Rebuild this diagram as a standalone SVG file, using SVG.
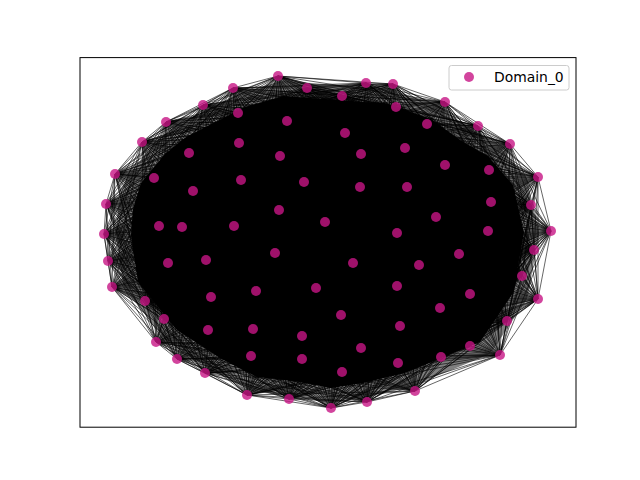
<svg xmlns="http://www.w3.org/2000/svg" width="640" height="480" viewBox="0 0 640 480">
<style>
.e{fill:none;stroke:#000;stroke-opacity:0.6;stroke-width:1;stroke-linejoin:round}
.n{fill:#C71585;fill-opacity:0.8}
.t{font-family:"DejaVu Sans","Liberation Sans",sans-serif;font-size:13.9px;fill:#000}
</style>
<rect x="0" y="0" width="640" height="480" fill="#fff"/>
<g id="connectors">
<polygon points="284,96 362,102 385,103 431,119 460,140 488,156 513,185 524,233 513,293 480,342 405,373 363,383 331,388 294,381 257,377 220,358 177,330 138,282 131,235 133,209 141,183 165,154 186,137 245,107" fill="#000" stroke="#000" stroke-opacity="0.5" stroke-width="30" stroke-linejoin="round"/>
<path class="e" d="M278 76L307 88L233 88L342 96L238 113L366 83L203 105L393 84L166 122L396 107L142 142L445 102L154 178L427 124L115 174L478 126L106 204L510 144L104 234L489 170L108 261L538 177L112 287L531 205L145 301L491 202L164 319L551 231L156 342L534 250L177 359L522 276L205 373L538 299L251 356L507 321L247 395L500 355L289 399L470 346L331 408L441 357L342 372L415 391L367 402L398 363"/>
<path class="e" d="M307 88L342 96L278 76L366 83L233 88L393 84L238 113L396 107L203 105L445 102L166 122L427 124L142 142L478 126L154 178L510 144L115 174L489 170L106 204L538 177L104 234L531 205L108 261L491 202L112 287L551 231L145 301L534 250L164 319L522 276L156 342L538 299L177 359L507 321L205 373L500 355L251 356L470 346L247 395L441 357L289 399L415 391L331 408L398 363L342 372L367 402"/>
<path class="e" d="M342 96L366 83L307 88L393 84L278 76L396 107L233 88L445 102L238 113L427 124L203 105L478 126L166 122L510 144L142 142L489 170L154 178L538 177L115 174L531 205L106 204L491 202L104 234L551 231L108 261L534 250L112 287L522 276L145 301L538 299L164 319L507 321L156 342L500 355L177 359L470 346L205 373L441 357L251 356L415 391L247 395L398 363L289 399L367 402L331 408L342 372"/>
<path class="e" d="M366 83L393 84L342 96L396 107L307 88L445 102L278 76L427 124L233 88L478 126L238 113L510 144L203 105L489 170L166 122L538 177L142 142L531 205L154 178L491 202L115 174L551 231L106 204L534 250L104 234L522 276L108 261L538 299L112 287L507 321L145 301L500 355L164 319L470 346L156 342L441 357L177 359L415 391L205 373L398 363L251 356L367 402L247 395L342 372L289 399L331 408"/>
<path class="e" d="M393 84L396 107L366 83L445 102L342 96L427 124L307 88L478 126L278 76L510 144L233 88L489 170L238 113L538 177L203 105L531 205L166 122L491 202L142 142L551 231L154 178L534 250L115 174L522 276L106 204L538 299L104 234L507 321L108 261L500 355L112 287L470 346L145 301L441 357L164 319L415 391L156 342L398 363L177 359L367 402L205 373L342 372L251 356L331 408L247 395L289 399"/>
<path class="e" d="M396 107L445 102L393 84L427 124L366 83L478 126L342 96L510 144L307 88L489 170L278 76L538 177L233 88L531 205L238 113L491 202L203 105L551 231L166 122L534 250L142 142L522 276L154 178L538 299L115 174L507 321L106 204L500 355L104 234L470 346L108 261L441 357L112 287L415 391L145 301L398 363L164 319L367 402L156 342L342 372L177 359L331 408L205 373L289 399L251 356L247 395"/>
<path class="e" d="M445 102L427 124L396 107L478 126L393 84L510 144L366 83L489 170L342 96L538 177L307 88L531 205L278 76L491 202L233 88L551 231L238 113L534 250L203 105L522 276L166 122L538 299L142 142L507 321L154 178L500 355L115 174L470 346L106 204L441 357L104 234L415 391L108 261L398 363L112 287L367 402L145 301L342 372L164 319L331 408L156 342L289 399L177 359L247 395L205 373L251 356"/>
<path class="e" d="M427 124L478 126L445 102L510 144L396 107L489 170L393 84L538 177L366 83L531 205L342 96L491 202L307 88L551 231L278 76L534 250L233 88L522 276L238 113L538 299L203 105L507 321L166 122L500 355L142 142L470 346L154 178L441 357L115 174L415 391L106 204L398 363L104 234L367 402L108 261L342 372L112 287L331 408L145 301L289 399L164 319L247 395L156 342L251 356L177 359L205 373"/>
<path class="e" d="M478 126L510 144L427 124L489 170L445 102L538 177L396 107L531 205L393 84L491 202L366 83L551 231L342 96L534 250L307 88L522 276L278 76L538 299L233 88L507 321L238 113L500 355L203 105L470 346L166 122L441 357L142 142L415 391L154 178L398 363L115 174L367 402L106 204L342 372L104 234L331 408L108 261L289 399L112 287L247 395L145 301L251 356L164 319L205 373L156 342L177 359"/>
<path class="e" d="M510 144L489 170L478 126L538 177L427 124L531 205L445 102L491 202L396 107L551 231L393 84L534 250L366 83L522 276L342 96L538 299L307 88L507 321L278 76L500 355L233 88L470 346L238 113L441 357L203 105L415 391L166 122L398 363L142 142L367 402L154 178L342 372L115 174L331 408L106 204L289 399L104 234L247 395L108 261L251 356L112 287L205 373L145 301L177 359L164 319L156 342"/>
<path class="e" d="M489 170L538 177L510 144L531 205L478 126L491 202L427 124L551 231L445 102L534 250L396 107L522 276L393 84L538 299L366 83L507 321L342 96L500 355L307 88L470 346L278 76L441 357L233 88L415 391L238 113L398 363L203 105L367 402L166 122L342 372L142 142L331 408L154 178L289 399L115 174L247 395L106 204L251 356L104 234L205 373L108 261L177 359L112 287L156 342L145 301L164 319"/>
<path class="e" d="M538 177L531 205L489 170L491 202L510 144L551 231L478 126L534 250L427 124L522 276L445 102L538 299L396 107L507 321L393 84L500 355L366 83L470 346L342 96L441 357L307 88L415 391L278 76L398 363L233 88L367 402L238 113L342 372L203 105L331 408L166 122L289 399L142 142L247 395L154 178L251 356L115 174L205 373L106 204L177 359L104 234L156 342L108 261L164 319L112 287L145 301"/>
<path class="e" d="M531 205L491 202L538 177L551 231L489 170L534 250L510 144L522 276L478 126L538 299L427 124L507 321L445 102L500 355L396 107L470 346L393 84L441 357L366 83L415 391L342 96L398 363L307 88L367 402L278 76L342 372L233 88L331 408L238 113L289 399L203 105L247 395L166 122L251 356L142 142L205 373L154 178L177 359L115 174L156 342L106 204L164 319L104 234L145 301L108 261L112 287"/>
<path class="e" d="M491 202L551 231L531 205L534 250L538 177L522 276L489 170L538 299L510 144L507 321L478 126L500 355L427 124L470 346L445 102L441 357L396 107L415 391L393 84L398 363L366 83L367 402L342 96L342 372L307 88L331 408L278 76L289 399L233 88L247 395L238 113L251 356L203 105L205 373L166 122L177 359L142 142L156 342L154 178L164 319L115 174L145 301L106 204L112 287L104 234L108 261"/>
<path class="e" d="M551 231L534 250L491 202L522 276L531 205L538 299L538 177L507 321L489 170L500 355L510 144L470 346L478 126L441 357L427 124L415 391L445 102L398 363L396 107L367 402L393 84L342 372L366 83L331 408L342 96L289 399L307 88L247 395L278 76L251 356L233 88L205 373L238 113L177 359L203 105L156 342L166 122L164 319L142 142L145 301L154 178L112 287L115 174L108 261L106 204L104 234"/>
<path class="e" d="M534 250L522 276L551 231L538 299L491 202L507 321L531 205L500 355L538 177L470 346L489 170L441 357L510 144L415 391L478 126L398 363L427 124L367 402L445 102L342 372L396 107L331 408L393 84L289 399L366 83L247 395L342 96L251 356L307 88L205 373L278 76L177 359L233 88L156 342L238 113L164 319L203 105L145 301L166 122L112 287L142 142L108 261L154 178L104 234L115 174L106 204"/>
<path class="e" d="M522 276L538 299L534 250L507 321L551 231L500 355L491 202L470 346L531 205L441 357L538 177L415 391L489 170L398 363L510 144L367 402L478 126L342 372L427 124L331 408L445 102L289 399L396 107L247 395L393 84L251 356L366 83L205 373L342 96L177 359L307 88L156 342L278 76L164 319L233 88L145 301L238 113L112 287L203 105L108 261L166 122L104 234L142 142L106 204L154 178L115 174"/>
<path class="e" d="M538 299L507 321L522 276L500 355L534 250L470 346L551 231L441 357L491 202L415 391L531 205L398 363L538 177L367 402L489 170L342 372L510 144L331 408L478 126L289 399L427 124L247 395L445 102L251 356L396 107L205 373L393 84L177 359L366 83L156 342L342 96L164 319L307 88L145 301L278 76L112 287L233 88L108 261L238 113L104 234L203 105L106 204L166 122L115 174L142 142L154 178"/>
<path class="e" d="M507 321L500 355L538 299L470 346L522 276L441 357L534 250L415 391L551 231L398 363L491 202L367 402L531 205L342 372L538 177L331 408L489 170L289 399L510 144L247 395L478 126L251 356L427 124L205 373L445 102L177 359L396 107L156 342L393 84L164 319L366 83L145 301L342 96L112 287L307 88L108 261L278 76L104 234L233 88L106 204L238 113L115 174L203 105L154 178L166 122L142 142"/>
<path class="e" d="M500 355L470 346L507 321L441 357L538 299L415 391L522 276L398 363L534 250L367 402L551 231L342 372L491 202L331 408L531 205L289 399L538 177L247 395L489 170L251 356L510 144L205 373L478 126L177 359L427 124L156 342L445 102L164 319L396 107L145 301L393 84L112 287L366 83L108 261L342 96L104 234L307 88L106 204L278 76L115 174L233 88L154 178L238 113L142 142L203 105L166 122"/>
<path class="e" d="M470 346L441 357L500 355L415 391L507 321L398 363L538 299L367 402L522 276L342 372L534 250L331 408L551 231L289 399L491 202L247 395L531 205L251 356L538 177L205 373L489 170L177 359L510 144L156 342L478 126L164 319L427 124L145 301L445 102L112 287L396 107L108 261L393 84L104 234L366 83L106 204L342 96L115 174L307 88L154 178L278 76L142 142L233 88L166 122L238 113L203 105"/>
<path class="e" d="M441 357L415 391L470 346L398 363L500 355L367 402L507 321L342 372L538 299L331 408L522 276L289 399L534 250L247 395L551 231L251 356L491 202L205 373L531 205L177 359L538 177L156 342L489 170L164 319L510 144L145 301L478 126L112 287L427 124L108 261L445 102L104 234L396 107L106 204L393 84L115 174L366 83L154 178L342 96L142 142L307 88L166 122L278 76L203 105L233 88L238 113"/>
<path class="e" d="M415 391L398 363L441 357L367 402L470 346L342 372L500 355L331 408L507 321L289 399L538 299L247 395L522 276L251 356L534 250L205 373L551 231L177 359L491 202L156 342L531 205L164 319L538 177L145 301L489 170L112 287L510 144L108 261L478 126L104 234L427 124L106 204L445 102L115 174L396 107L154 178L393 84L142 142L366 83L166 122L342 96L203 105L307 88L238 113L278 76L233 88"/>
</g>
<g id="nodes">
<g id="n1"><circle class="n" cx="278" cy="76" r="5"/></g>
<g id="n2"><circle class="n" cx="307" cy="88" r="5"/></g>
<g id="n3"><circle class="n" cx="366" cy="83" r="5"/></g>
<g id="n4"><circle class="n" cx="393" cy="84" r="5"/></g>
<g id="n5"><circle class="n" cx="233" cy="88" r="5"/></g>
<g id="n6"><circle class="n" cx="342" cy="96" r="5"/></g>
<g id="n7"><circle class="n" cx="396" cy="107" r="5"/></g>
<g id="n8"><circle class="n" cx="445" cy="102" r="5"/></g>
<g id="n9"><circle class="n" cx="203" cy="105" r="5"/></g>
<g id="n10"><circle class="n" cx="238" cy="113" r="5"/></g>
<g id="n11"><circle class="n" cx="287" cy="121" r="5"/></g>
<g id="n12"><circle class="n" cx="427" cy="124" r="5"/></g>
<g id="n13"><circle class="n" cx="478" cy="126" r="5"/></g>
<g id="n14"><circle class="n" cx="166" cy="122" r="5"/></g>
<g id="n15"><circle class="n" cx="345" cy="133" r="5"/></g>
<g id="n16"><circle class="n" cx="142" cy="142" r="5"/></g>
<g id="n17"><circle class="n" cx="239" cy="143" r="5"/></g>
<g id="n18"><circle class="n" cx="405" cy="148" r="5"/></g>
<g id="n19"><circle class="n" cx="510" cy="144" r="5"/></g>
<g id="n20"><circle class="n" cx="189" cy="153" r="5"/></g>
<g id="n21"><circle class="n" cx="280" cy="156" r="5"/></g>
<g id="n22"><circle class="n" cx="361" cy="154" r="5"/></g>
<g id="n23"><circle class="n" cx="445" cy="165" r="5"/></g>
<g id="n24"><circle class="n" cx="489" cy="170" r="5"/></g>
<g id="n25"><circle class="n" cx="115" cy="174" r="5"/></g>
<g id="n26"><circle class="n" cx="154" cy="178" r="5"/></g>
<g id="n27"><circle class="n" cx="241" cy="180" r="5"/></g>
<g id="n28"><circle class="n" cx="304" cy="182" r="5"/></g>
<g id="n29"><circle class="n" cx="360" cy="187" r="5"/></g>
<g id="n30"><circle class="n" cx="407" cy="187" r="5"/></g>
<g id="n31"><circle class="n" cx="538" cy="177" r="5"/></g>
<g id="n32"><circle class="n" cx="193" cy="191" r="5"/></g>
<g id="n33"><circle class="n" cx="106" cy="204" r="5"/></g>
<g id="n34"><circle class="n" cx="491" cy="202" r="5"/></g>
<g id="n35"><circle class="n" cx="531" cy="205" r="5"/></g>
<g id="n36"><circle class="n" cx="279" cy="210" r="5"/></g>
<g id="n37"><circle class="n" cx="436" cy="217" r="5"/></g>
<g id="n38"><circle class="n" cx="159" cy="226" r="5"/></g>
<g id="n39"><circle class="n" cx="182" cy="227" r="5"/></g>
<g id="n40"><circle class="n" cx="234" cy="226" r="5"/></g>
<g id="n41"><circle class="n" cx="325" cy="222" r="5"/></g>
<g id="n42"><circle class="n" cx="397" cy="233" r="5"/></g>
<g id="n43"><circle class="n" cx="488" cy="231" r="5"/></g>
<g id="n44"><circle class="n" cx="104" cy="234" r="5"/></g>
<g id="n45"><circle class="n" cx="551" cy="231" r="5"/></g>
<g id="n46"><circle class="n" cx="534" cy="250" r="5"/></g>
<g id="n47"><circle class="n" cx="275" cy="253" r="5"/></g>
<g id="n48"><circle class="n" cx="459" cy="254" r="5"/></g>
<g id="n49"><circle class="n" cx="108" cy="261" r="5"/></g>
<g id="n50"><circle class="n" cx="168" cy="263" r="5"/></g>
<g id="n51"><circle class="n" cx="206" cy="260" r="5"/></g>
<g id="n52"><circle class="n" cx="353" cy="263" r="5"/></g>
<g id="n53"><circle class="n" cx="419" cy="265" r="5"/></g>
<g id="n54"><circle class="n" cx="522" cy="276" r="5"/></g>
<g id="n55"><circle class="n" cx="112" cy="287" r="5"/></g>
<g id="n56"><circle class="n" cx="316" cy="288" r="5"/></g>
<g id="n57"><circle class="n" cx="256" cy="291" r="5"/></g>
<g id="n58"><circle class="n" cx="397" cy="286" r="5"/></g>
<g id="n59"><circle class="n" cx="470" cy="294" r="5"/></g>
<g id="n60"><circle class="n" cx="211" cy="297" r="5"/></g>
<g id="n61"><circle class="n" cx="538" cy="299" r="5"/></g>
<g id="n62"><circle class="n" cx="145" cy="301" r="5"/></g>
<g id="n63"><circle class="n" cx="440" cy="308" r="5"/></g>
<g id="n64"><circle class="n" cx="341" cy="315" r="5"/></g>
<g id="n65"><circle class="n" cx="164" cy="319" r="5"/></g>
<g id="n66"><circle class="n" cx="507" cy="321" r="5"/></g>
<g id="n67"><circle class="n" cx="400" cy="326" r="5"/></g>
<g id="n68"><circle class="n" cx="253" cy="329" r="5"/></g>
<g id="n69"><circle class="n" cx="208" cy="330" r="5"/></g>
<g id="n70"><circle class="n" cx="302" cy="336" r="5"/></g>
<g id="n71"><circle class="n" cx="156" cy="342" r="5"/></g>
<g id="n72"><circle class="n" cx="470" cy="346" r="5"/></g>
<g id="n73"><circle class="n" cx="361" cy="348" r="5"/></g>
<g id="n74"><circle class="n" cx="500" cy="355" r="5"/></g>
<g id="n75"><circle class="n" cx="251" cy="356" r="5"/></g>
<g id="n76"><circle class="n" cx="177" cy="359" r="5"/></g>
<g id="n77"><circle class="n" cx="441" cy="357" r="5"/></g>
<g id="n78"><circle class="n" cx="302" cy="359" r="5"/></g>
<g id="n79"><circle class="n" cx="398" cy="363" r="5"/></g>
<g id="n80"><circle class="n" cx="205" cy="373" r="5"/></g>
<g id="n81"><circle class="n" cx="342" cy="372" r="5"/></g>
<g id="n82"><circle class="n" cx="247" cy="395" r="5"/></g>
<g id="n83"><circle class="n" cx="289" cy="399" r="5"/></g>
<g id="n84"><circle class="n" cx="331" cy="408" r="5"/></g>
<g id="n85"><circle class="n" cx="367" cy="402" r="5"/></g>
<g id="n86"><circle class="n" cx="415" cy="391" r="5"/></g>
</g>
<rect x="80" y="57.6" width="496" height="369.6" fill="none" stroke="#000" stroke-width="1"/>
<g id="legend">
<rect x="449" y="65.5" width="120" height="24.5" rx="2.5" fill="#fff" fill-opacity="0.8" stroke="#ccc" stroke-width="1"/>
<circle class="n" cx="469" cy="77" r="5"/>
<text class="t" x="494" y="82">Domain_0</text>
</g>
</svg>
